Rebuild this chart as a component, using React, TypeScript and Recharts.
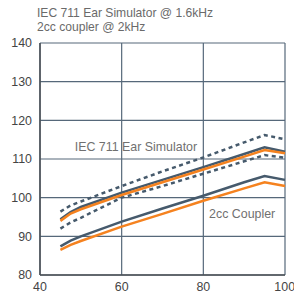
import React from 'react';
import {
  LineChart,
  Line,
  XAxis,
  YAxis,
  CartesianGrid,
  ReferenceDot,
  Label,
} from 'recharts';

const xValues = [45, 47.5, 50, 60, 70, 80, 90, 95, 100];
const iecUpperDotted = [96.4, 98, 99, 103, 106.8, 110.4, 114.3, 116.2, 115.1];
const iecDark = [94.4, 96.3, 97.6, 101.3, 104.6, 107.9, 111.3, 113, 111.9];
const iecOrange = [94, 95.9, 97, 100.7, 104, 107.3, 110.6, 112.3, 111.5];
const iecLowerDotted = [92, 93.6, 94.8, 100, 103, 106.2, 109.4, 111, 110.3];
const couplerDark = [87.4, 88.9, 90, 93.8, 97.2, 100.5, 104, 105.6, 104.6];
const couplerOrange = [86.5, 87.8, 88.8, 92.5, 95.8, 99.2, 102.4, 104, 103];

const xTicks = [40, 60, 80, 100];
const yTicks = [80, 90, 100, 110, 120, 130, 140];
const titleLines = ['IEC 711 Ear Simulator @ 1.6kHz', '2cc coupler @ 2kHz'];

const data = xValues.map((x, i) => ({
  x,
  iecUpperDotted: iecUpperDotted[i],
  iecDark: iecDark[i],
  iecOrange: iecOrange[i],
  iecLowerDotted: iecLowerDotted[i],
  couplerDark: couplerDark[i],
  couplerOrange: couplerOrange[i],
}));

const DARK = '#465a6c';
const ORANGE = '#f5821f';
const FONT = '"Liberation Sans", Arial, sans-serif';

const App: React.FC = () => {
  return (
    <div style={{ position: 'fixed', left: 0, top: 0, width: 294, height: 296, background: '#fff', fontFamily: FONT }}>
      <div
        style={{
          position: 'absolute',
          left: 37,
          top: 7,
          fontSize: 12.1,
          lineHeight: '13.5px',
          color: '#6a6a6a',
        }}
      >
        {titleLines.map(t => (
          <div key={t}>{t}</div>
        ))}
      </div>
      <LineChart
        width={294}
        height={296}
        data={data}
        margin={{ top: 43, right: 9, left: 5, bottom: 1 }}
      >
        <CartesianGrid stroke="#56687a" strokeWidth={1.2} />
        <XAxis
          dataKey="x"
          type="number"
          domain={[40, 100]}
          ticks={xTicks}
          axisLine={{ stroke: '#4a4f55', strokeWidth: 1.5 }}
          tickLine={false}
          tickMargin={1}
          height={20}
          tick={{ fill: '#444', fontSize: 12.4, fontFamily: FONT }}
        />
        <YAxis
          type="number"
          domain={[80, 140]}
          ticks={yTicks}
          axisLine={{ stroke: '#4a4f55', strokeWidth: 1.5 }}
          tickLine={false}
          tickMargin={2}
          width={35}
          tick={{ fill: '#444', fontSize: 12.4, fontFamily: FONT }}
        />
        <Line dataKey="iecUpperDotted" stroke={DARK} strokeWidth={2.5} strokeDasharray="4 3.5" dot={false} isAnimationActive={false} />
        <Line dataKey="iecLowerDotted" stroke={DARK} strokeWidth={2.5} strokeDasharray="4 3.5" dot={false} isAnimationActive={false} />
        <Line dataKey="iecDark" stroke={DARK} strokeWidth={2.5} dot={false} isAnimationActive={false} />
        <Line dataKey="couplerDark" stroke={DARK} strokeWidth={2.5} dot={false} isAnimationActive={false} />
        <Line dataKey="iecOrange" stroke={ORANGE} strokeWidth={2.5} dot={false} isAnimationActive={false} />
        <Line dataKey="couplerOrange" stroke={ORANGE} strokeWidth={2.5} dot={false} isAnimationActive={false} />
        <ReferenceDot x={63.5} y={113.1} r={0} ifOverflow="visible">
          <Label value="IEC 711 Ear Simulator" position="center" fill="#707070" fontSize={12.4} fontFamily={FONT} />
        </ReferenceDot>
        <ReferenceDot x={89.5} y={95.8} r={0} ifOverflow="visible">
          <Label value="2cc Coupler" position="center" fill="#707070" fontSize={12.4} fontFamily={FONT} />
        </ReferenceDot>
      </LineChart>
    </div>
  );
};

export default App;
